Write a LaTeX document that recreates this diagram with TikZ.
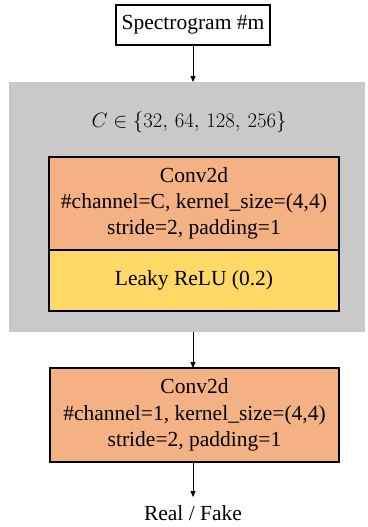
\documentclass[tikz,border=0pt]{standalone}
\usepackage{fontspec}
\setmainfont{Liberation Serif}
\newfontfamily\tnr{Liberation Serif}
\usetikzlibrary{arrows.meta}
\definecolor{grayback}{RGB}{201,201,201}
\definecolor{convorange}{RGB}{244,177,131}
\definecolor{reluyellow}{RGB}{255,217,102}
\begin{document}
\begin{tikzpicture}[x=1pt,y=-1pt,
  every node/.style={font=\tnr\fontsize{21.5}{26.3}\selectfont, inner sep=0pt, align=center},
  box/.style={draw=black, line width=1.1pt, rectangle},
  arr/.style={draw=black, line width=1pt, -{Triangle[length=6pt,width=5pt]}}]
\useasboundingbox (0,0) rectangle (367,527);
\node[box, fill=white, minimum width=154pt, minimum height=40pt] (spec) at (193,25) {Spectrogram \#m};
\node[fill=grayback, minimum width=356pt, minimum height=250pt] (gray) at (187,207) {};
\node (clabel) at (189,122) {$C \in \{32,\,64,\,128,\,256\}$};
\node[box, fill=convorange, minimum width=290pt, minimum height=93pt] (conv1) at (194,203.5) {Conv2d\\\#channel=C, kernel\_size=(4,4)\\stride=2, padding=1};
\node[box, fill=reluyellow, minimum width=290pt, minimum height=61pt] (relu) at (194,280.5) {Leaky ReLU (0.2)};
\node[box, fill=convorange, minimum width=289pt, minimum height=94pt] (conv2) at (194.5,415) {Conv2d\\\#channel=1, kernel\_size=(4,4)\\stride=2, padding=1};
\node (rf) at (193,513) {Real / Fake};
\coordinate (gtop) at (193,82);
\coordinate (gbot) at (193,332);
\coordinate (c2top) at (193,368);
\coordinate (c2bot) at (193,462);
\coordinate (rftop) at (193,497);
\draw[arr] (spec.south) -- (gtop);
\draw[arr] (gbot) -- (c2top);
\draw[arr] (c2bot) -- (rftop);
\end{tikzpicture}
\end{document}
